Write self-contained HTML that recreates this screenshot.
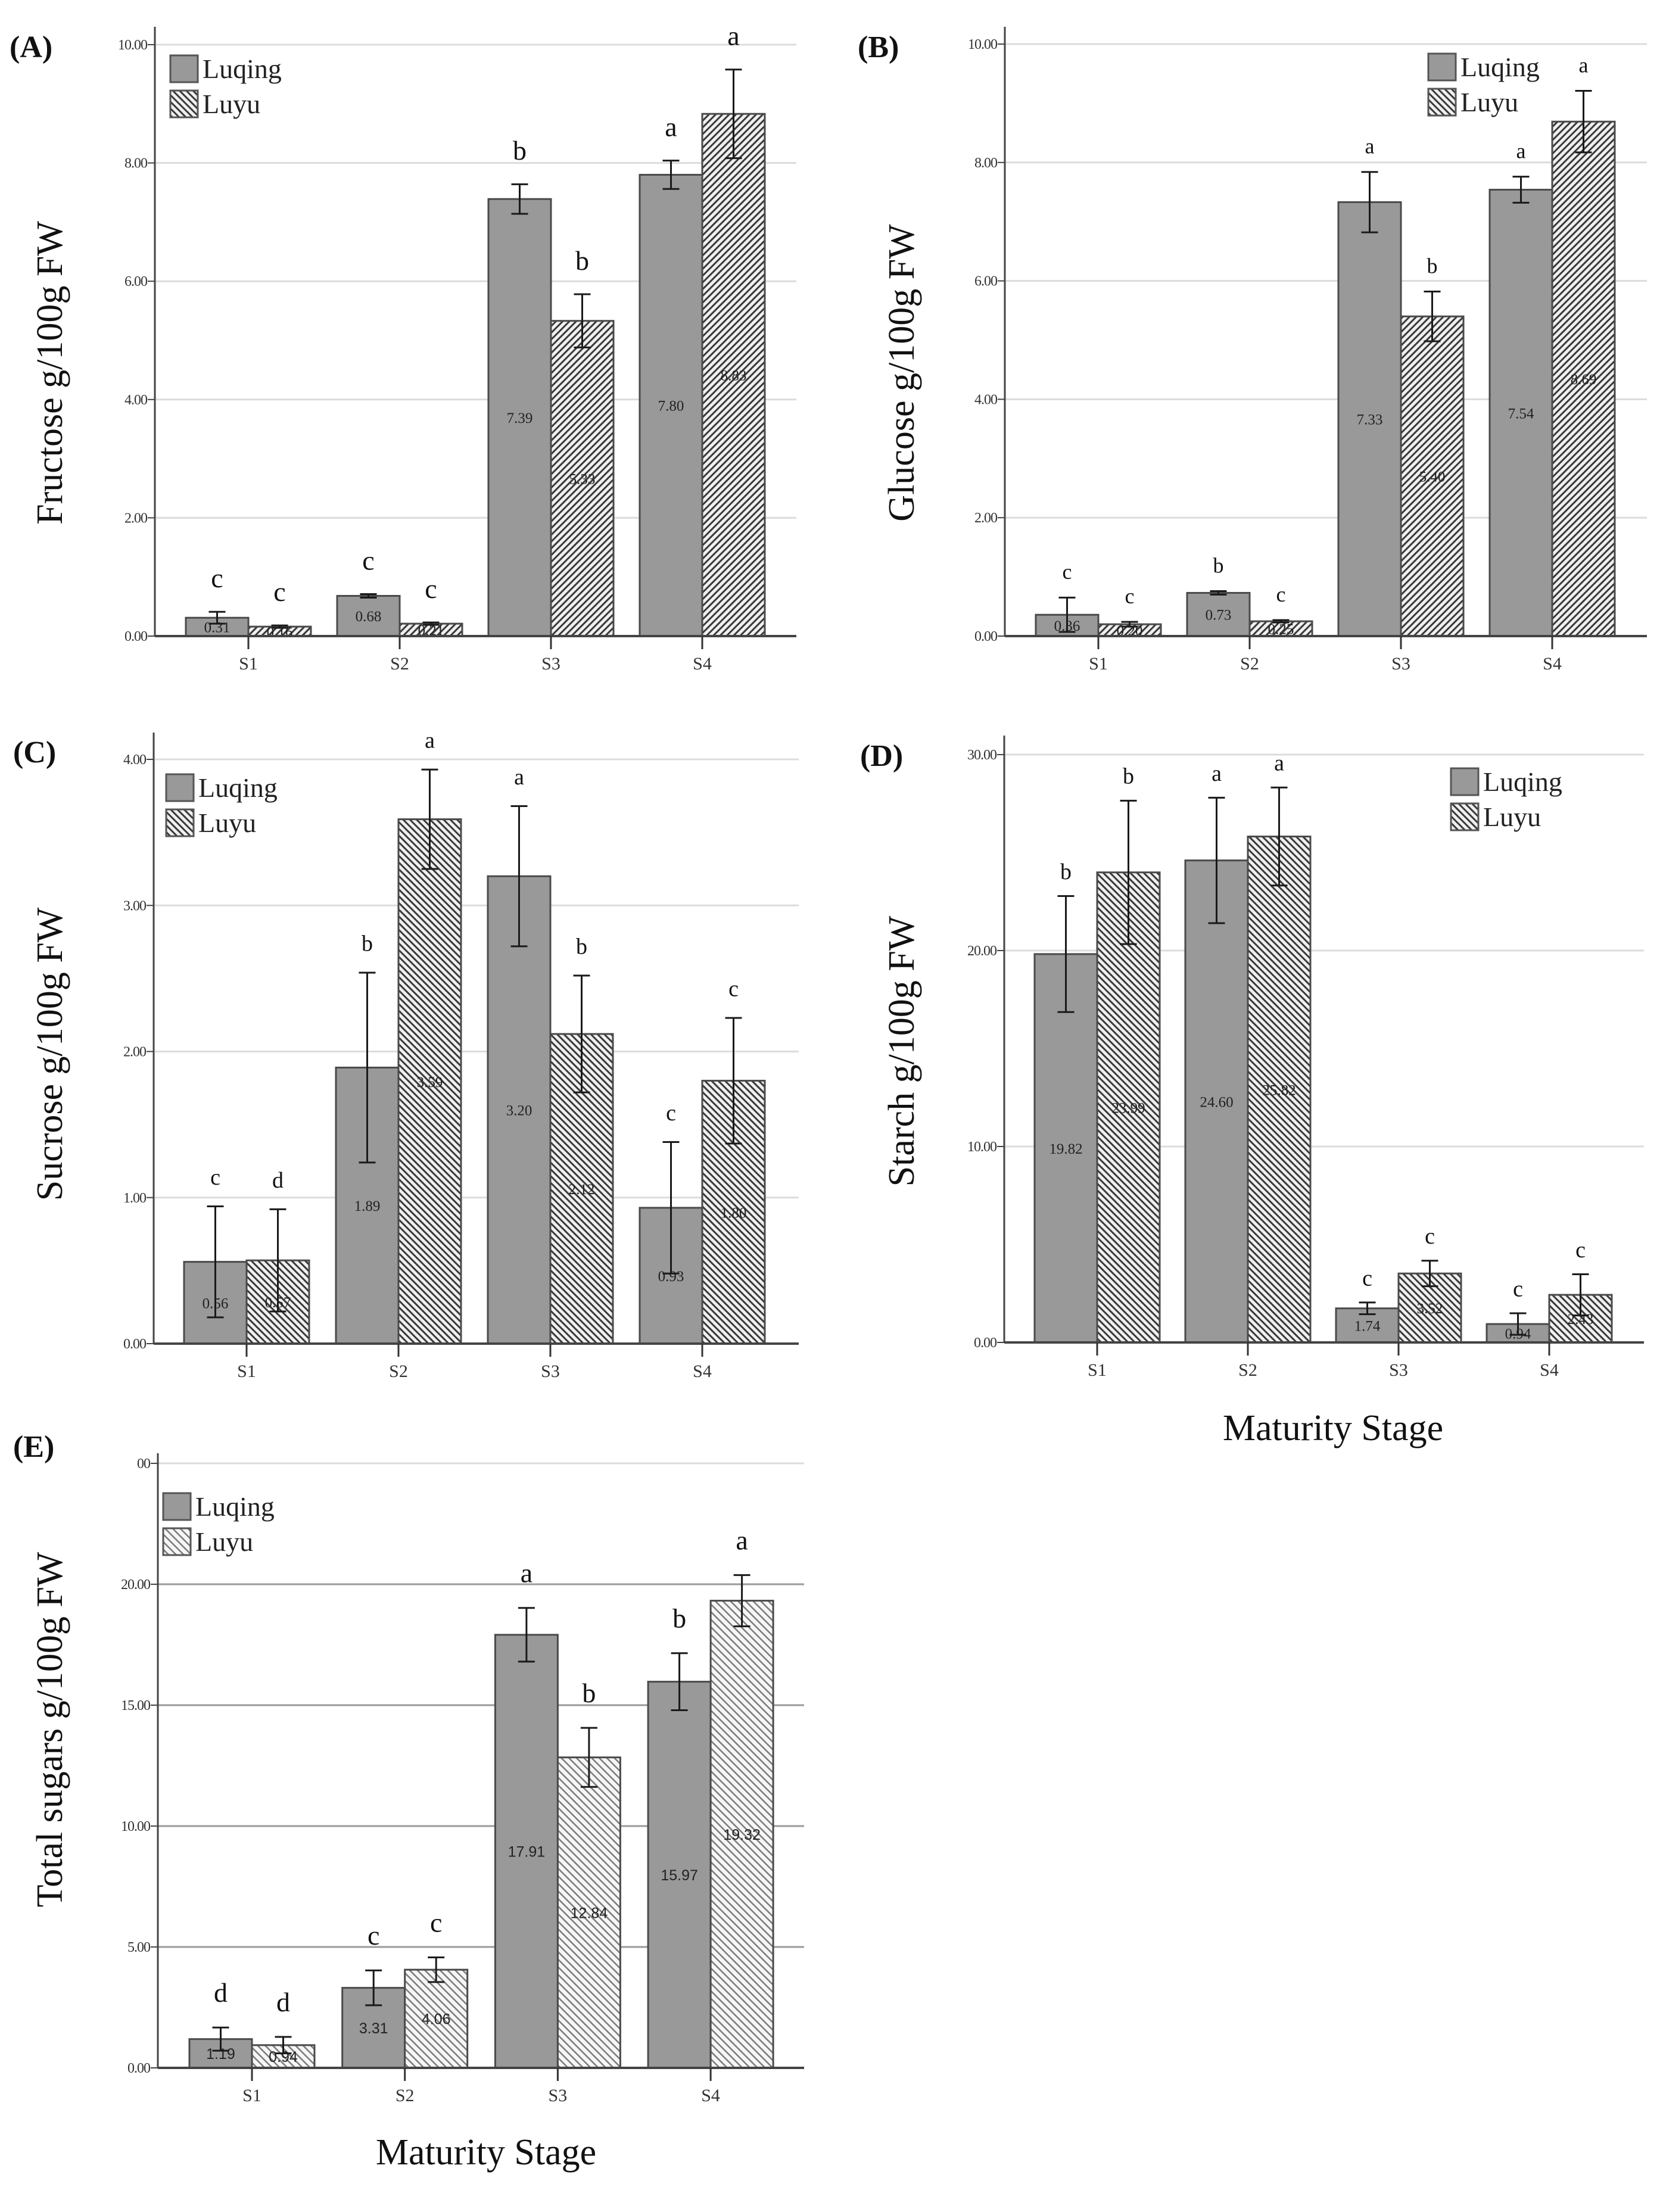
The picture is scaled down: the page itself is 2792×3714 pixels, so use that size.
<!DOCTYPE html>
<html><head><meta charset="utf-8">
<style>
html,body{margin:0;padding:0;background:#fff;}
svg{display:block;}
</style></head>
<body>
<svg id="fig" xmlns="http://www.w3.org/2000/svg" width="2792" height="3714" viewBox="0 0 2792 3714">
<defs>
<pattern id="hatchFwd" patternUnits="userSpaceOnUse" width="8" height="8" patternTransform="rotate(45)">
<rect width="8" height="8" fill="#f0f0f0"/><rect x="0" y="0" width="3" height="8" fill="#3a3a3a"/></pattern>
<pattern id="hatchBack" patternUnits="userSpaceOnUse" width="8" height="8" patternTransform="rotate(-45)">
<rect width="8" height="8" fill="#f0f0f0"/><rect x="0" y="0" width="3" height="8" fill="#3a3a3a"/></pattern>
<pattern id="hatchLight" patternUnits="userSpaceOnUse" width="9" height="9" patternTransform="rotate(-45)">
<rect width="9" height="9" fill="#f6f6f6"/><rect x="0" y="0" width="2.5" height="9" fill="#7a7a7a"/></pattern>
</defs>
</svg>
<script>
// ---------- data ----------
const categories = ["S1","S2","S3","S4"];
const seriesNames = ["Luqing","Luyu"];

const fructoseLuqing = [0.31, 0.68, 7.39, 7.80];
const fructoseLuyu   = [0.16, 0.21, 5.33, 8.83];
const fructoseErrLuqing = [0.10, 0.03, 0.25, 0.24];
const fructoseErrLuyu   = [0.02, 0.02, 0.45, 0.75];
const fructoseLettersLuqing = ["c","c","b","a"];
const fructoseLettersLuyu   = ["c","c","b","a"];
const fructoseTicks = [0, 2, 4, 6, 8, 10];

const glucoseLuqing = [0.36, 0.73, 7.33, 7.54];
const glucoseLuyu   = [0.20, 0.25, 5.40, 8.69];
const glucoseErrLuqing = [0.29, 0.03, 0.51, 0.22];
const glucoseErrLuyu   = [0.04, 0.02, 0.42, 0.52];
const glucoseLettersLuqing = ["c","b","a","a"];
const glucoseLettersLuyu   = ["c","c","b","a"];
const glucoseTicks = [0, 2, 4, 6, 8, 10];

const sucroseLuqing = [0.56, 1.89, 3.20, 0.93];
const sucroseLuyu   = [0.57, 3.59, 2.12, 1.80];
const sucroseErrLuqing = [0.38, 0.65, 0.48, 0.45];
const sucroseErrLuyu   = [0.35, 0.34, 0.40, 0.43];
const sucroseLettersLuqing = ["c","b","a","c"];
const sucroseLettersLuyu   = ["d","a","b","c"];
const sucroseTicks = [0, 1, 2, 3, 4];

const starchLuqing = [19.82, 24.60, 1.74, 0.94];
const starchLuyu   = [23.99, 25.82, 3.52, 2.43];
const starchErrLuqing = [2.96, 3.20, 0.30, 0.55];
const starchErrLuyu   = [3.66, 2.50, 0.65, 1.05];
const starchLettersLuqing = ["b","a","c","c"];
const starchLettersLuyu   = ["b","a","c","c"];
const starchTicks = [0, 10, 20, 30];

const totalLuqing = [1.19, 3.31, 17.91, 15.97];
const totalLuyu   = [0.94, 4.06, 12.84, 19.32];
const totalErrLuqing = [0.48, 0.72, 1.11, 1.18];
const totalErrLuyu   = [0.34, 0.51, 1.22, 1.06];
const totalLettersLuqing = ["d","c","a","b"];
const totalLettersLuyu   = ["d","c","b","a"];
const totalTicks = [0, 5, 10, 15, 20, 25];

// ---------- layout ----------
const NS = "http://www.w3.org/2000/svg";
const svg = document.getElementById("fig");
function mk(tag, attrs, parent){
  const e = document.createElementNS(NS, tag);
  for (const k in attrs) e.setAttribute(k, attrs[k]);
  (parent||svg).appendChild(e);
  return e;
}
const SERIF = "'Liberation Serif', serif";
const SANS = "'Liberation Sans', sans-serif";

function drawPanel(p){
  const g = mk("g", {});
  
  
  const yScale = v => p.y0 - (v - 0) * (p.y0 - p.yTop) / (p.yMaxTick - 0);
  const xCenter = i => p.c0 + i * p.cStep;
  // gridlines + y ticks
  p.ticks.forEach((t) => {
    const y = yScale(t);
    if (t !== 0) {
      const gl = mk("line", {x1:p.axisX, x2:p.right, y1:y, y2:y, stroke:(p.darkGrid && t<p.ticks[p.ticks.length-1]) ? "#9a9a9a" : "#dcdcdc", "stroke-width":3}, g);
      
      
    }
    const tk = mk("line", {x1:p.axisX-12, x2:p.axisX, y1:y, y2:y, stroke:"#444", "stroke-width":2}, g);
    
    
    const lab = mk("text", {x:p.axisX-13, y:y+8, "font-family":SERIF, "font-size":24, "text-anchor":"end", fill:"#333", "letter-spacing":"-1"}, g);
    lab.textContent = p.tickLabel ? p.tickLabel(t) : t.toFixed(2);
    
    
  });
  // bars
  const series = [
    {vals:p.luqing, errs:p.errLuqing, lets:p.letLuqing, fill:"#999999", off:-1, name:"luqing"},
    {vals:p.luyu, errs:p.errLuyu, lets:p.letLuyu, fill:"url(#"+p.hatch+")", off:0, name:"luyu"}
  ];
  series.forEach(s => {
    s.vals.forEach((v, i) => {
      const x = xCenter(i) + s.off * p.barW;
      const y = yScale(v);
      const r = mk("rect", {x:x, y:y, width:p.barW, height:p.y0 - y, fill:s.fill, stroke:"#4a4a4a", "stroke-width":3}, g);
      
      
      // value label
      const vl = mk("text", {x:x + p.barW/2, y:(y + p.y0)/2 + 9, "font-family":p.valueFont, "font-size":25, "text-anchor":"middle", fill:"#222"}, g);
      vl.textContent = v.toFixed(2);
      
      
      // error bar
      const cx = x + p.barW/2;
      const yt = yScale(v + s.errs[i]), yb = yScale(Math.max(0, v - s.errs[i]));
      const eb = mk("path", {d:`M${cx},${yt}V${yb}M${cx-14},${yt}H${cx+14}M${cx-14},${yb}H${cx+14}`, stroke:"#1a1a1a", "stroke-width":3, fill:"none"}, g);
      
      
      // letter
      const lt = mk("text", {x:cx, y:yt - p.letOff + p.letSize*0.3, "font-family":SERIF, "font-size":p.letSize, "text-anchor":"middle", fill:"#111"}, g);
      lt.textContent = s.lets[i];
      
      
    });
  });
  // axes
  const ya = mk("line", {x1:p.axisX, x2:p.axisX, y1:p.axisTop, y2:p.y0, stroke:"#444", "stroke-width":3}, g);
  
  
  const xa = mk("line", {x1:p.axisX, x2:p.right, y1:p.y0, y2:p.y0, stroke:"#444", "stroke-width":4}, g);
  
  
  categories.forEach((c, i) => {
    const x = xCenter(i);
    const t = mk("line", {x1:x, x2:x, y1:p.y0, y2:p.y0+22, stroke:"#333", "stroke-width":3}, g);
    
    
    const lab = mk("text", {x:x, y:p.y0+56, "font-family":SERIF, "font-size":30, "text-anchor":"middle", fill:"#333"}, g);
    lab.textContent = c;
    
    
  });
  // panel letter
  const pl = mk("text", {x:p.labX, y:p.labY, "font-family":SERIF, "font-size":52, "font-weight":"bold", fill:"#111"}, g);
  pl.textContent = p.panelLabel;
  
  
  // y title
  const yt = mk("text", {x:0, y:0, transform:`translate(${p.ytX},${p.ytY}) rotate(-90)`, "font-family":SERIF, "font-size":62, "text-anchor":"middle", fill:"#111"}, g);
  yt.textContent = p.yTitle;
  
  
  if (p.xTitle) {
    const xt = mk("text", {x:p.xtX, y:p.xtY, "font-family":SERIF, "font-size":62, "text-anchor":"middle", fill:"#111"}, g);
    xt.textContent = "Maturity Stage";
    
    
  }
  // legend
  const lg = mk("g", {}, g);
  
  
  [["#999999","Luqing"],["url(#"+p.legHatch+")","Luyu"]].forEach((it, k) => {
    const y = p.legY + k*59;
    const sw = mk("rect", {x:p.legX, y:y, width:46, height:45, fill:it[0], stroke:"#555", "stroke-width":3}, lg);
    
    
    const tx = mk("text", {x:p.legX+54, y:y+38, "font-family":SERIF, "font-size":46, fill:"#222"}, lg);
    tx.textContent = seriesNames[k];
    
    
  });
}

drawPanel({name:"fructose", panelLabel:"(A)", yTitle:"Fructose g/100g FW",
  luqing:fructoseLuqing, luyu:fructoseLuyu, errLuqing:fructoseErrLuqing, errLuyu:fructoseErrLuyu,
  letLuqing:fructoseLettersLuqing, letLuyu:fructoseLettersLuyu, ticks:fructoseTicks, yMaxTick:10,
  axisX:260, right:1337, axisTop:45, yTop:75, y0:1068, c0:417, cStep:254, barW:105,
  hatch:"hatchFwd", legHatch:"hatchBack", valueFont:SERIF, letSize:46, letOff:55,
  labX:16, labY:96, ytX:104, ytY:626, legX:286, legY:93});

drawPanel({name:"glucose", panelLabel:"(B)", yTitle:"Glucose g/100g FW",
  luqing:glucoseLuqing, luyu:glucoseLuyu, errLuqing:glucoseErrLuqing, errLuyu:glucoseErrLuyu,
  letLuqing:glucoseLettersLuqing, letLuyu:glucoseLettersLuyu, ticks:glucoseTicks, yMaxTick:10,
  axisX:1687, right:2765, axisTop:45, yTop:74, y0:1068, c0:1844, cStep:254, barW:105,
  hatch:"hatchFwd", legHatch:"hatchBack", valueFont:SERIF, letSize:36, letOff:42,
  labX:1440, labY:96, ytX:1534, ytY:626, legX:2398, legY:90});

drawPanel({name:"sucrose", panelLabel:"(C)", yTitle:"Sucrose g/100g FW",
  luqing:sucroseLuqing, luyu:sucroseLuyu, errLuqing:sucroseErrLuqing, errLuyu:sucroseErrLuyu,
  letLuqing:sucroseLettersLuqing, letLuyu:sucroseLettersLuyu, ticks:sucroseTicks, yMaxTick:4,
  axisX:258, right:1341, axisTop:1230, yTop:1275, y0:2256, c0:414, cStep:255, barW:105,
  hatch:"hatchBack", legHatch:"hatchBack", valueFont:SERIF, letSize:38, letOff:48,
  labX:22, labY:1280, ytX:104, ytY:1770, legX:279, legY:1300});

drawPanel({name:"starch", panelLabel:"(D)", yTitle:"Starch g/100g FW",
  luqing:starchLuqing, luyu:starchLuyu, errLuqing:starchErrLuqing, errLuyu:starchErrLuyu,
  letLuqing:starchLettersLuqing, letLuyu:starchLettersLuyu, ticks:starchTicks, yMaxTick:30,
  axisX:1686, right:2760, axisTop:1235, yTop:1267, y0:2254, c0:1842, cStep:253, barW:105,
  hatch:"hatchBack", legHatch:"hatchBack", valueFont:SERIF, letSize:38, letOff:40,
  labX:1444, labY:1286, ytX:1534, ytY:1765, legX:2436, legY:1290, xTitle:true, xtX:2238, xtY:2418});

drawPanel({name:"total-sugars", panelLabel:"(E)", yTitle:"Total sugars g/100g FW",
  luqing:totalLuqing, luyu:totalLuyu, errLuqing:totalErrLuqing, errLuyu:totalErrLuyu,
  letLuqing:totalLettersLuqing, letLuyu:totalLettersLuyu, ticks:totalTicks, yMaxTick:25,
  tickLabel: t => t===25 ? "00" : t.toFixed(2),
  axisX:265, right:1350, axisTop:2440, yTop:2457, y0:3472, c0:423, cStep:256.7, barW:105,
  hatch:"hatchLight", legHatch:"hatchLight", valueFont:SANS, letSize:46, letOff:57, darkGrid:true,
  labX:22, labY:2446, ytX:104, ytY:2904, legX:274, legY:2507, xTitle:true, xtX:816, xtY:3634});
</script>
</body></html>
